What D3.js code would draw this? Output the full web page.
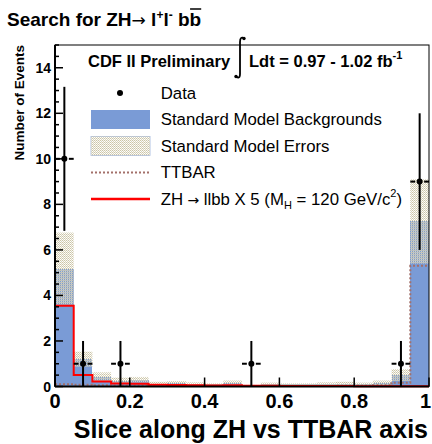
<!DOCTYPE html>
<html><head><meta charset="utf-8">
<script src="https://cdn.jsdelivr.net/npm/d3@7"></script>
<style>
html,body{margin:0;padding:0;background:#fff;}
svg{display:block;font-family:"Liberation Sans",Arial,Helvetica,sans-serif;}
</style></head>
<body>
<svg id="c" width="432" height="444"></svg>
<script>
// ---- data (20 bins of width 0.05 on [0,1]) ----
const binEdges = d3.range(0, 21).map(i => i * 0.05);
const smBackground = [5.18, 1.2, 0.43, 0.25, 0.3, 0.13, 0.15, 0.11, 0.09, 0.17, 0.04, 0.1, 0.09, 0.09, 0.11, 0.13, 0.1, 0.16, 0.5, 7.25];
const smError      = [1.58, 0.33, 0.19, 0.14, 0.12, 0.08, 0.09, 0.07, 0.05, 0.09, 0.03, 0.07, 0.05, 0.05, 0.07, 0.08, 0.07, 0.1, 0.26, 1.85];
const ttbar        = [0.1, 0.08, 0.05, 0.04, 0.04, 0.03, 0.03, 0.02, 0.02, 0.02, 0.02, 0.02, 0.02, 0.02, 0.02, 0.03, 0.03, 0.05, 0.17, 5.3];
const zhSignal     = [3.55, 0.5, 0.22, 0.13, 0.12, 0.08, 0.07, 0.05, 0.04, 0.05, 0.03, 0.03, 0.02, 0.02, 0.02, 0.02, 0.01, 0.01, 0.01, 0.01];
const dataCounts   = [10, 1, 0, 1, 0, 0, 0, 0, 0, 0, 1, 0, 0, 0, 0, 0, 0, 0, 1, 9];
const yTicks = [0, 2, 4, 6, 8, 10, 12, 14];
const xTicks = [0, 0.2, 0.4, 0.6, 0.8, 1];
const xTickLabels = ["0", "0.2", "0.4", "0.6", "0.8", "1"];

const svg = d3.select("#c");
const x = d3.scaleLinear().domain([0, 1]).range([55, 429]);
const y = d3.scaleLinear().domain([0, 15]).range([386.5, 45]);

const bins = smBackground.map((v, i) => ({
  x0: binEdges[i], x1: binEdges[i + 1], bkg: v, err: smError[i],
  tt: ttbar[i], zh: zhSignal[i], n: dataCounts[i]
}));

// pattern for error band
const defs = svg.append("defs");
const pat = defs.append("pattern").attr("id", "band").attr("patternUnits", "userSpaceOnUse")
  .attr("width", 2).attr("height", 2);
pat.append("rect").attr("x", 0).attr("y", 0).attr("width", 1).attr("height", 1).attr("fill", "#cbc5a6");
pat.append("rect").attr("x", 1).attr("y", 1).attr("width", 1).attr("height", 1).attr("fill", "#d8d3bb");
pat.append("rect").attr("x", 1).attr("y", 0).attr("width", 1).attr("height", 1).attr("fill", "#ebe8dc").attr("opacity", 0.45);

const plot = svg.append("g");
// background histogram
plot.selectAll("rect.bkg").data(bins).join("rect").attr("class", "bkg")
  .attr("x", d => x(d.x0)).attr("width", d => x(d.x1) - x(d.x0))
  .attr("y", d => y(d.bkg)).attr("height", d => y(0) - y(d.bkg))
  .attr("fill", "#7a9bd6").attr("shape-rendering", "crispEdges");
// error band
plot.selectAll("rect.err").data(bins).join("rect").attr("class", "err")
  .attr("x", d => x(d.x0)).attr("width", d => x(d.x1) - x(d.x0))
  .attr("y", d => y(d.bkg + d.err)).attr("height", d => y(Math.max(0, d.bkg - d.err)) - y(d.bkg + d.err))
  .attr("fill", "url(#band)");

function stepPts(key) {
  const pts = [];
  bins.forEach(b => { pts.push([b.x0, b[key]]); pts.push([b.x1, b[key]]); });
  return pts;
}
const stepLine = d3.line().x(d => x(d[0])).y(d => y(d[1]));
plot.append("path").attr("d", stepLine(stepPts("tt")))
  .attr("fill", "none").attr("stroke", "#a3706a").attr("stroke-width", 2).attr("stroke-dasharray", "2,2");
plot.append("path").attr("d", stepLine(stepPts("zh")))
  .attr("fill", "none").attr("stroke", "#ff0000").attr("stroke-width", 2);

// data points
const pts = bins.filter(b => b.n > 0);
const dg = plot.selectAll("g.dp").data(pts).join("g").attr("class", "dp");
dg.append("line").attr("x1", d => x((d.x0 + d.x1) / 2)).attr("x2", d => x((d.x0 + d.x1) / 2))
  .attr("y1", d => y(d.n + Math.sqrt(d.n))).attr("y2", d => y(Math.max(0, d.n - Math.sqrt(d.n))))
  .attr("stroke", "#000").attr("stroke-width", 2);
dg.append("line").attr("x1", d => x(d.x0)).attr("x2", d => x((d.x0 + d.x1) / 2) - 4.5)
  .attr("y1", d => y(d.n)).attr("y2", d => y(d.n)).attr("stroke", "#000").attr("stroke-width", 2);
dg.append("line").attr("x1", d => x((d.x0 + d.x1) / 2) + 4.5).attr("x2", d => x(d.x1))
  .attr("y1", d => y(d.n)).attr("y2", d => y(d.n)).attr("stroke", "#000").attr("stroke-width", 2);
dg.append("circle").attr("cx", d => x((d.x0 + d.x1) / 2)).attr("cy", d => y(d.n)).attr("r", 3).attr("fill", "#000");

// frame
svg.append("rect").attr("x", x(0)).attr("y", y(15)).attr("width", x(1) - x(0)).attr("height", y(0) - y(15))
  .attr("fill", "none").attr("stroke", "#000").attr("stroke-width", 1);

// y axis
const yAxis = svg.append("g").attr("transform", `translate(${x(0)},0)`);
yAxis.append("line").attr("x1", 0).attr("x2", 0).attr("y1", y(0)).attr("y2", y(15)).attr("stroke", "#000").attr("stroke-width", 2);
yAxis.selectAll("line.minor").data(d3.range(0, 15.01, 0.5)).join("line").attr("class", "minor")
  .attr("x1", 0).attr("x2", d => (d % 2 === 0 ? 8 : 4)).attr("y1", d => y(d)).attr("y2", d => y(d))
  .attr("stroke", "#000").attr("stroke-width", 1.5);
yAxis.selectAll("text").data(yTicks).join("text")
  .attr("x", -4).attr("y", d => y(d) + 5).attr("text-anchor", "end")
  .attr("font-size", 14).attr("font-weight", "bold").text(d => d);

// x axis
const xAxis = svg.append("g");
xAxis.append("line").attr("x1", x(0)).attr("x2", x(1)).attr("y1", y(0)).attr("y2", y(0)).attr("stroke", "#000").attr("stroke-width", 2);
xAxis.selectAll("line.t").data(xTicks).join("line").attr("class", "t")
  .attr("x1", d => x(d)).attr("x2", d => x(d)).attr("y1", y(0)).attr("y2", y(0) - 9)
  .attr("stroke", "#000").attr("stroke-width", 1.5);
xAxis.selectAll("text").data(xTicks).join("text")
  .attr("x", d => (d === 1 ? 431 : x(d))).attr("y", 408)
  .attr("text-anchor", d => (d === 1 ? "end" : "middle"))
  .attr("font-size", 20).attr("font-weight", "bold").text((d, i) => xTickLabels[i]);

// axis titles
svg.append("text").attr("x", 428).attr("y", 438).attr("text-anchor", "end")
  .attr("font-size", 25).attr("font-weight", "bold").text("Slice along ZH vs TTBAR axis");
svg.append("text").attr("transform", "translate(24,45) rotate(-90)").attr("text-anchor", "end")
  .attr("font-size", 13.5).attr("font-weight", "bold").text("Number of Events");

// title
const title = svg.append("text").attr("x", 7).attr("y", 26).attr("font-size", 19).attr("font-weight", "bold");
title.append("tspan").text("Search for ZH");
title.append("tspan").attr("font-weight", "normal").attr("font-family", "DejaVu Sans").attr("font-size", 17).text("→");
title.append("tspan").text(" l");
title.append("tspan").attr("font-size", 12).attr("dy", -7).text("+");
title.append("tspan").attr("dy", 7).text("l");
title.append("tspan").attr("font-size", 12).attr("dy", -7).text("-");
title.append("tspan").attr("dy", 7).text(" bb");
{
  const node = title.node();
  const n = node.getNumberOfChars();
  const s = node.getStartPositionOfChar(n - 1), e = node.getEndPositionOfChar(n - 1);
  svg.append("line").attr("x1", s.x + 0.5).attr("x2", e.x).attr("y1", 9).attr("y2", 9)
    .attr("stroke", "#000").attr("stroke-width", 1.5);
}

// header in frame
svg.append("text").attr("x", 88).attr("y", 67).attr("font-size", 16.5).attr("font-weight", "bold").text("CDF II Preliminary");
svg.append("path").attr("d", "M244,39 C242,36 240,38 240,42 L240,74 C240,79 237,78 236,76")
  .attr("fill", "none").attr("stroke", "#000").attr("stroke-width", 1.8);
svg.append("circle").attr("cx", 244).attr("cy", 38.5).attr("r", 1.7).attr("fill", "#000");
svg.append("circle").attr("cx", 236).attr("cy", 76.5).attr("r", 1.7).attr("fill", "#000");
const lum = svg.append("text").attr("x", 249).attr("y", 67).attr("font-size", 16.5).attr("font-weight", "bold");
lum.append("tspan").text("Ldt = 0.97 - 1.02 fb");
lum.append("tspan").attr("font-size", 11).attr("dy", -8).text("-1");

// legend
const lg = svg.append("g");
const lgX = 160.7, rows = [93, 119.5, 146, 172.5, 199];
lg.append("circle").attr("cx", 120).attr("cy", rows[0]).attr("r", 3).attr("fill", "#000");
lg.append("rect").attr("x", 91).attr("y", rows[1] - 9.5).attr("width", 59).attr("height", 19).attr("fill", "#7a9bd6");
lg.append("rect").attr("x", 91).attr("y", rows[2] - 9.5).attr("width", 59).attr("height", 19).attr("fill", "#fff").attr("stroke", "#9fb4dd").attr("stroke-width", 0.8);
lg.append("rect").attr("x", 91).attr("y", rows[2] - 9.5).attr("width", 59).attr("height", 19).attr("fill", "url(#band)");
lg.append("line").attr("x1", 91).attr("x2", 150).attr("y1", rows[3]).attr("y2", rows[3])
  .attr("stroke", "#a3706a").attr("stroke-width", 2).attr("stroke-dasharray", "2,2");
lg.append("line").attr("x1", 91).attr("x2", 150).attr("y1", rows[4]).attr("y2", rows[4])
  .attr("stroke", "#ff0000").attr("stroke-width", 2.5);
const labels = ["Data", "Standard Model Backgrounds", "Standard Model Errors", "TTBAR"];
labels.forEach((t, i) => lg.append("text").attr("x", lgX).attr("y", rows[i] + 5.5).attr("font-size", 16.8).text(t));
const zt = lg.append("text").attr("x", lgX).attr("y", rows[4] + 5.5).attr("font-size", 16.8);
zt.append("tspan").text("ZH");
zt.append("tspan").attr("font-family", "DejaVu Sans").attr("font-size", 14).text(" → ");
zt.append("tspan").text("llbb X 5 (M");
zt.append("tspan").attr("font-size", 11).attr("dy", 4).text("H");
zt.append("tspan").attr("dy", -4).text(" = 120 GeV/c");
zt.append("tspan").attr("font-size", 11).attr("dy", -8).text("2");
zt.append("tspan").attr("dy", 8).text(")");
</script>
</body></html>
